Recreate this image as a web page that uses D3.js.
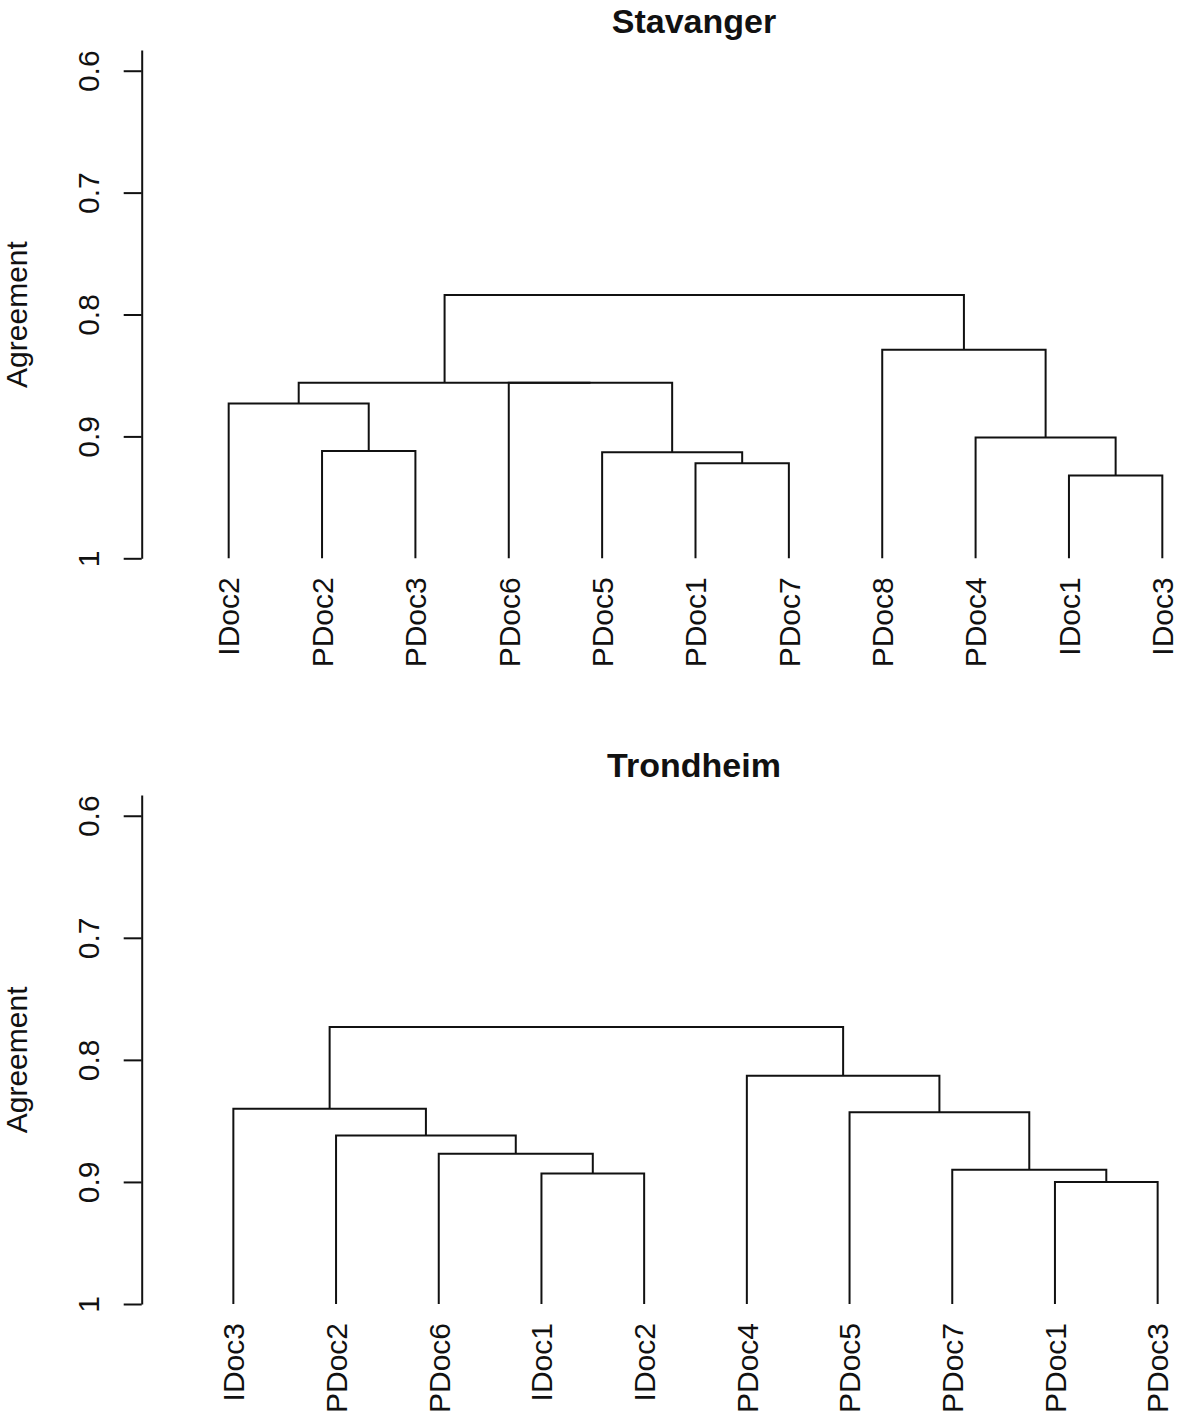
<!DOCTYPE html>
<html>
<head>
<meta charset="utf-8">
<script src="https://cdn.jsdelivr.net/npm/d3@7"></script>
<style>
  html, body { margin: 0; padding: 0; background: #fff; }
  svg { display: block; }
  text { font-family: "Liberation Sans", Arial, sans-serif; fill: #111; }
</style>
</head>
<body>
<svg id="chart" width="1181" height="1417"></svg>
<script>
// ---------------- data ----------------
const tickValues = [0.6, 0.7, 0.8, 0.9, 1];
const tickLabels = ["0.6", "0.7", "0.8", "0.9", "1"];

// Stavanger: leaf order, merges (negative = leaf position, positive = earlier merge step), merge heights (agreement)
const stavangerLabels = ["IDoc2", "PDoc2", "PDoc3", "PDoc6", "PDoc5", "PDoc1", "PDoc7", "PDoc8", "PDoc4", "IDoc1", "IDoc3"];
const stavangerMerge = [[-10, -11], [-6, -7], [-5, 2], [-2, -3], [-9, 1], [-1, 4], [-4, 3], [6, 7], [-8, 5], [8, 9]];
const stavangerHeight = [0.932, 0.922, 0.913, 0.912, 0.901, 0.873, 0.856, 0.856, 0.829, 0.784];

// Trondheim
const trondheimLabels = ["IDoc3", "PDoc2", "PDoc6", "IDoc1", "IDoc2", "PDoc4", "PDoc5", "PDoc7", "PDoc1", "PDoc3"];
const trondheimMerge = [[-4, -5], [-9, -10], [-8, 2], [-3, 1], [-2, 4], [-7, 3], [-1, 5], [-6, 6], [7, 8]];
const trondheimHeight = [0.893, 0.900, 0.890, 0.877, 0.862, 0.843, 0.840, 0.813, 0.773];

// ---------------- drawing ----------------
const svg = d3.select("#chart");
const FS = 30;

function buildTree(labels, merge, height) {
  const nodes = [];
  const make = (ref) => ref < 0
    ? { name: labels[-ref - 1], order: -ref, h: 1 }
    : nodes[ref - 1];
  merge.forEach((m, i) => {
    nodes.push({ h: height[i], children: [make(m[0]), make(m[1])] });
  });
  return nodes[nodes.length - 1];
}

function drawPanel(cfg) {
  const n = cfg.labels.length;
  const x = d3.scaleLinear().domain([0.5, n + 0.5]).range([182, 1209]);
  const y = d3.scaleLinear().domain([cfg.yTopValue, 1]).range([cfg.top, cfg.bottom]);
  const g = svg.append("g");

  // title
  g.append("text")
    .attr("x", 694).attr("y", cfg.titleY)
    .attr("text-anchor", "middle")
    .style("font-size", "34px").style("font-weight", "bold")
    .text(cfg.title);

  // y axis
  const axis = d3.axisLeft(y)
    .tickValues(tickValues)
    .tickFormat((d, i) => tickLabels[i])
    .tickSize(18).tickSizeOuter(0);
  const ag = g.append("g").attr("transform", "translate(141.7,0)").call(axis);
  ag.select(".domain").attr("stroke", "#111").attr("stroke-width", 2);
  ag.selectAll(".tick line").attr("stroke", "#111").attr("stroke-width", 2);
  ag.selectAll(".tick text")
    .attr("x", null).attr("dy", null)
    .attr("transform", "translate(-43,0) rotate(-90)")
    .attr("text-anchor", "middle")
    .style("font-size", FS + "px")
    .style("font-family", "'Liberation Sans', Arial, sans-serif")
    .attr("fill", "#111");

  // y label
  const yMid = (y(0.6) + y(1)) / 2;
  g.append("text")
    .attr("transform", `translate(27,${yMid}) rotate(-90)`)
    .attr("text-anchor", "middle")
    .style("font-size", FS + "px")
    .text("Agreement");

  // tree
  const root = d3.hierarchy(buildTree(cfg.labels, cfg.merge, cfg.height));
  root.eachAfter(node => {
    node.px = node.children ? d3.mean(node.children, c => c.px) : x(node.data.order);
    node.py = y(node.data.h);
  });

  const links = root.descendants().filter(d => d.children);
  g.append("g")
    .selectAll("path")
    .data(links)
    .join("path")
    .attr("fill", "none")
    .attr("stroke", "#111")
    .attr("stroke-width", 2)
    .attr("d", d => {
      const [a, b] = d.children;
      const p = d3.path();
      p.moveTo(a.px, a.py);
      p.lineTo(a.px, d.py);
      p.lineTo(b.px, d.py);
      p.lineTo(b.px, b.py);
      return p.toString();
    });

  // leaf labels
  g.append("g")
    .selectAll("text")
    .data(root.leaves())
    .join("text")
    .attr("transform", d => `translate(${d.px},${y(1) + 19}) rotate(-90)`)
    .attr("text-anchor", "end")
    .attr("dy", "0.36em")
    .style("font-size", FS + "px")
    .text(d => d.data.name);
}

drawPanel({
  title: "Stavanger", titleY: 33, top: 50, bottom: 558.3, yTopValue: 0.583,
  labels: stavangerLabels, merge: stavangerMerge, height: stavangerHeight
});
drawPanel({
  title: "Trondheim", titleY: 777, top: 795, bottom: 1304, yTopValue: 0.583,
  labels: trondheimLabels, merge: trondheimMerge, height: trondheimHeight
});
</script>
</body>
</html>
